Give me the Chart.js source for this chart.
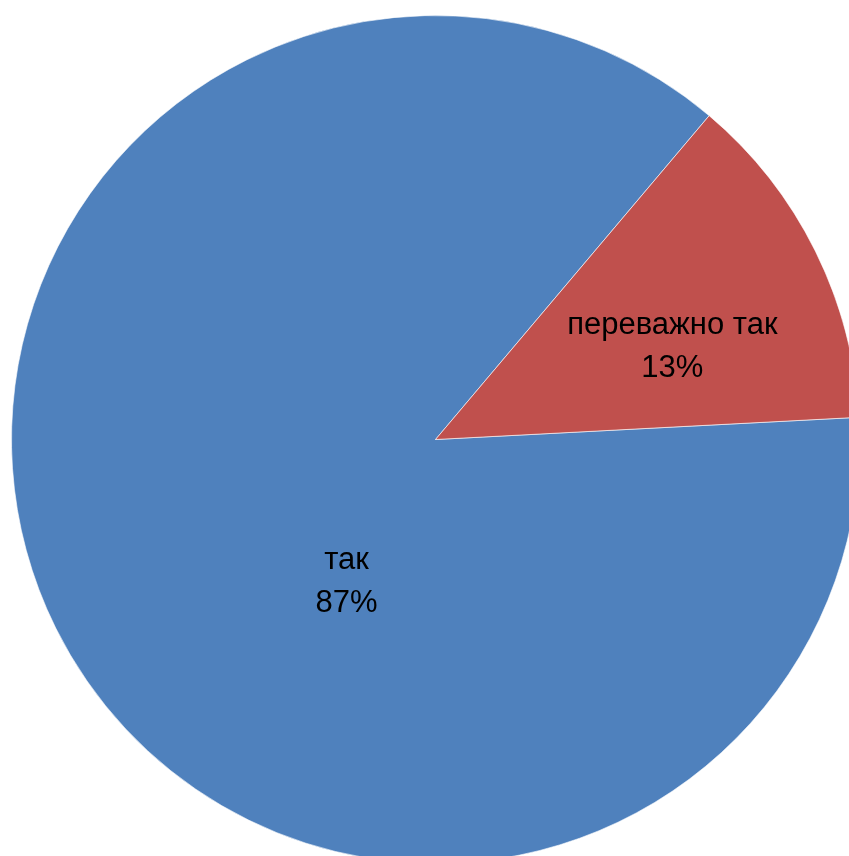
<!DOCTYPE html>
<html>
<head>
<meta charset="utf-8">
<script src="https://cdn.jsdelivr.net/npm/chart.js@4/dist/chart.umd.min.js"></script>
<style>
  html, body { margin: 0; padding: 0; background: #ffffff; overflow: hidden; }
  #chart { display: block; }
</style>
</head>
<body>
<canvas id="chart" width="849" height="856"></canvas>
<script>
// Data: categories and their shares (percent).
const categories = ["так", "переважно так"];
const shares     = [87, 13];
const colours    = ["#4F81BD", "#C0504D"];

// Label placement relative to each slice: angle offset from the slice middle (deg) and fraction of radius.
const labelPlacement = [
  { angleShift: -31.5, radiusFrac: 0.395 },
  { angleShift:   5,   radiusFrac: 0.60 },
];

const sliceLabels = {
  id: "sliceLabels",
  afterDatasetsDraw(chart) {
    const ctx  = chart.ctx;
    const arcs = chart.getDatasetMeta(0).data;
    ctx.save();
    ctx.font = "31px 'Liberation Sans', Arial, sans-serif";
    ctx.fillStyle = "#000000";
    ctx.textAlign = "center";
    ctx.textBaseline = "middle";
    arcs.forEach(function (arc, i) {
      const p   = arc.getProps(["x", "y", "startAngle", "endAngle", "outerRadius"], true);
      const pl  = labelPlacement[i];
      const mid = (p.startAngle + p.endAngle) / 2 + pl.angleShift * Math.PI / 180;
      const r   = p.outerRadius * pl.radiusFrac;
      const cx  = p.x + Math.cos(mid) * r;
      const cy  = p.y + Math.sin(mid) * r;
      ctx.fillText(categories[i], cx, cy - 21);
      ctx.fillText(shares[i] + "%", cx, cy + 22);
    });
    ctx.restore();
  },
};

new Chart(document.getElementById("chart"), {
  type: "pie",
  data: {
    labels: categories,
    datasets: [{
      data:            shares,
      backgroundColor: colours,
      borderColor:     "rgba(255,255,255,0.6)",
      borderWidth:     1,
    }],
  },
  options: {
    responsive: false,
    animation:  false,
    rotation:   87,
    radius:     424,
    layout: { padding: { left: 22, top: 23, right: 0, bottom: 0 } },
    plugins: {
      legend:  { display: false },
      tooltip: { enabled: false },
    },
  },
  plugins: [sliceLabels],
});
</script>
</body>
</html>
